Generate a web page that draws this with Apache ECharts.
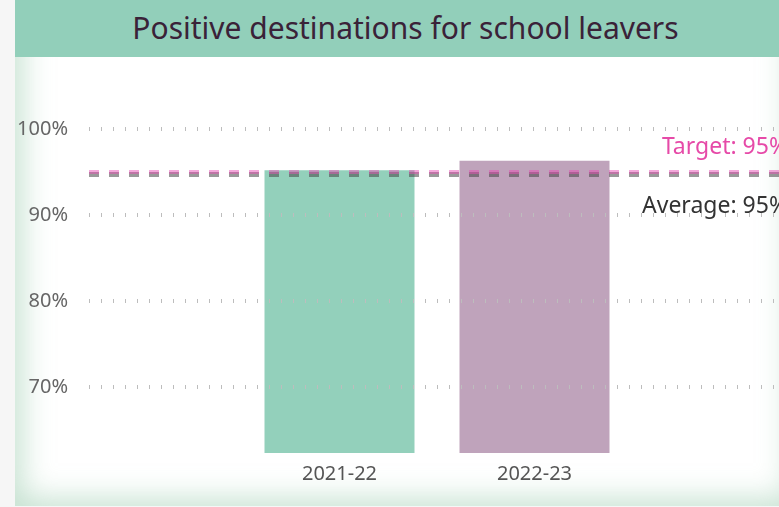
<!DOCTYPE html>
<html>
<head>
<meta charset="utf-8">
<script src="https://cdn.jsdelivr.net/npm/echarts@6/dist/echarts.min.js"></script>
<style>
  html, body { margin: 0; padding: 0; background: #f6f6f6; overflow: hidden; }
  #card {
    position: absolute; left: 15px; top: 0; width: 781px; height: 506px;
    background: #fff;
    box-shadow: inset 0 0 30px 7px rgba(150, 200, 170, 0.55);
  }
  #head {
    position: absolute; left: 0; top: 0; width: 100%; height: 57px;
    background: #92cfba; color: #3a2238;
    font-family: "Noto Sans", sans-serif; font-size: 30px;
    line-height: 56px; text-align: center;
  }
  #chart { position: absolute; left: 0; top: 0; width: 779px; height: 507px; }
</style>
</head>
<body>
<div id="card"><div id="head">Positive destinations for school leavers</div></div>
<div id="chart"></div>
<script>
// 数据
var categories = ['2021-22', '2022-23']
var values = [95.2, 96.3]
var barColors = ['#93d0bb', '#bfa3bb']
var yTicks = [70, 80, 90, 100]
var target = 95
var average = 94.7

var font = '"Noto Sans", sans-serif'
var chart = echarts.init(document.getElementById('chart'))

chart.setOption({
  animation: false,
  grid: [
    // full width grid: gridlines, target and average lines
    { left: 89, right: -28, top: 129, bottom: 54 },
    // bars
    { left: 242, right: 147, top: 129, bottom: 54 }
  ],
  xAxis: [
    { gridIndex: 0, type: 'category', data: categories, show: false },
    {
      gridIndex: 1,
      type: 'category',
      data: categories,
      axisLine: { show: false },
      axisTick: { show: false },
      axisLabel: { color: '#555', fontSize: 20, fontFamily: font, margin: 11 }
    }
  ],
  yAxis: [
    {
      gridIndex: 0,
      type: 'value',
      min: 62.3,
      max: 100,
      axisLine: { show: false },
      axisTick: { show: false, customValues: yTicks },
      axisLabel: {
        customValues: yTicks,
        formatter: '{value}%',
        color: '#666',
        fontSize: 20,
        fontFamily: font,
        margin: 21
      },
      splitLine: { show: false }
    },
    { gridIndex: 1, type: 'value', min: 62.3, max: 100, show: false }
  ],
  series: [
    {
      name: 'grid',
      type: 'line',
      xAxisIndex: 0,
      yAxisIndex: 0,
      data: [],
      silent: true,
      markLine: {
        silent: true,
        symbol: 'none',
        label: { show: false },
        lineStyle: { color: '#bdbdbd', width: 4, type: [1, 11] },
        data: yTicks.map(function (v) { return { yAxis: v } })
      }
    },
    {
      name: 'Positive destinations',
      type: 'bar',
      xAxisIndex: 1,
      yAxisIndex: 1,
      barWidth: 150,
      data: values.map(function (v, i) {
        return { value: v, itemStyle: { color: barColors[i] } }
      })
    },
    {
      name: 'lines',
      type: 'line',
      xAxisIndex: 0,
      yAxisIndex: 0,
      data: [],
      z: 5,
      markLine: {
        silent: true,
        symbol: 'none',
        data: [
          {
            yAxis: average,
            lineStyle: { color: 'rgba(70,70,70,0.55)', width: 5, type: [10, 10] },
            label: {
              position: 'insideEndBottom',
              formatter: function (p) { return 'Average: ' + Math.round(p.value) + '%' },
              color: '#333',
              fontSize: 23,
              fontFamily: font,
              distance: [0, 20],
              offset: [9, 0]
            }
          },
          {
            yAxis: target,
            lineStyle: { color: 'rgba(230,80,180,0.5)', width: 4, type: [10, 10] },
            label: {
              position: 'insideEndTop',
              formatter: function (p) { return 'Target: ' + Math.round(p.value) + '%' },
              color: '#e64aa8',
              fontSize: 23,
              fontFamily: font,
              distance: [0, 13],
              offset: [9, 0]
            }
          }
        ]
      }
    }
  ]
})
</script>
</body>
</html>
